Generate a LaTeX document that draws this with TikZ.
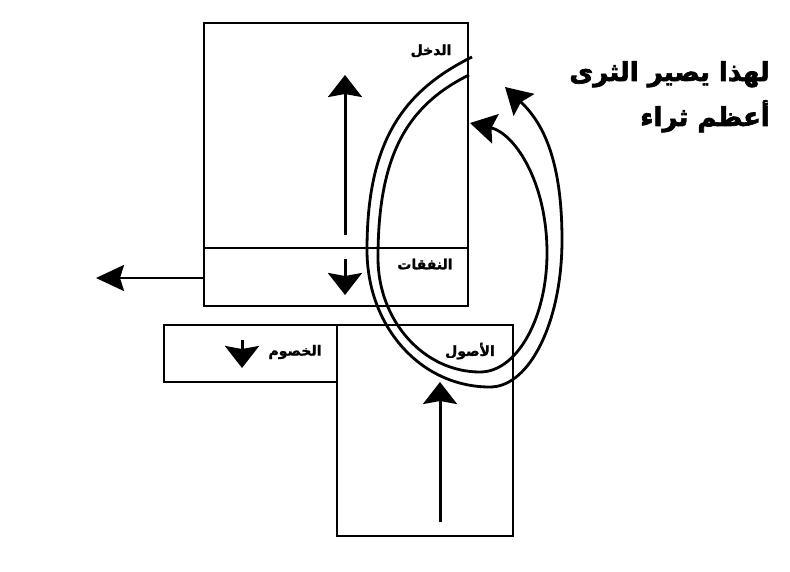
\documentclass[tikz,border=0pt]{standalone}
\usepackage{fontspec}
\usetikzlibrary{arrows.meta}
\TeXXeTstate=1
\newfontfamily\arabicfont[Script=Arabic, BoldFeatures={FakeBold=1.5}]{DejaVu Sans}
\newfontfamily\arabictitle[Script=Arabic, BoldFeatures={FakeBold=2.5}]{DejaVu Sans}
\begin{document}
\begin{tikzpicture}[x=1pt,y=-1pt,
  boxst/.style={draw, line width=1.5pt, outer sep=0pt, inner sep=0pt, anchor=north west},
  lbl/.style={font=\arabicfont\bfseries\fontsize{14}{16}\selectfont, inner sep=0pt},
  ttl/.style={font=\arabictitle\bfseries\fontsize{26}{45}\selectfont, inner sep=0pt, align=right, anchor=north east},
  vtip/.style={-{Stealth[length=22pt,width=34pt,inset=3pt]}, line width=3pt},
  htip/.style={-{Stealth[length=28pt,width=26pt,inset=4pt]}, line width=2.5pt},
  ctip/.style={-{Stealth[length=26pt,width=30pt,inset=4pt]}, line width=2.8pt},
  loopst/.style={line width=3pt}
]
\useasboundingbox (0,0) rectangle (790,571);
% boxes
\node[boxst, minimum width=264pt, minimum height=283pt] (top) at (204,23) {};
\node[boxst, minimum width=264pt, minimum height=58pt] (exp) at (204,248) {};
\node[boxst, minimum width=173pt, minimum height=57pt] (liab) at (164,325) {};
\node[boxst, minimum width=176pt, minimum height=211pt] (assets) at (337,325) {};
% labels
\node[lbl] (linc) at (431,51) {\beginR الدخل\endR};
\node[lbl] (lexp) at (425,264) {\beginR النفقات\endR};
\node[lbl] (lliab) at (295,352) {\beginR الخصوم\endR};
\node[lbl] (lass) at (470,351) {\beginR الأصول\endR};
\node[ttl] (title) at (770,61) {\beginR لهذا يصير الثرى\endR\\\beginR أعظم ثراء\endR};
% arrow coordinates
\coordinate (a1s) at (345,235); \coordinate (a1e) at (345,75);
\coordinate (a2s) at (345,259); \coordinate (a2e) at (345,295);
\coordinate (a3s) at (204,278); \coordinate (a3e) at (96,278);
\coordinate (a4s) at (242,340); \coordinate (a4e) at (242,368);
\coordinate (a5s) at (440,522); \coordinate (a5e) at (440,382);
\draw[vtip] (a1s) -- (a1e);
\draw[vtip] (a2s) -- (a2e);
\draw[htip] (a3s) -- (a3e);
\draw[vtip] (a4s) -- (a4e);
\draw[vtip] (a5s) -- (a5e);
% loops
\coordinate (o0) at (472,57); \coordinate (o1) at (367,250);
\coordinate (o2) at (490,387); \coordinate (o3) at (562,240);
\coordinate (o4) at (505,87);
\draw[loopst, ctip] (o0) .. controls (401,92) and (367,144) .. (o1)
  .. controls (367,326) and (420,387) .. (o2)
  .. controls (530,387) and (562,321) .. (o3)
  .. controls (562,156) and (541,121) .. (o4);
\coordinate (i0) at (469,75); \coordinate (i1) at (378,258);
\coordinate (i2) at (480,372); \coordinate (i3) at (547,253);
\coordinate (i4) at (470,123);
\draw[loopst, ctip] (i0) .. controls (406,106) and (378,157) .. (i1)
  .. controls (378,321) and (424,372) .. (i2)
  .. controls (517,372) and (547,318) .. (i3)
  .. controls (547,181) and (514,133) .. (i4);
\end{tikzpicture}
\end{document}
